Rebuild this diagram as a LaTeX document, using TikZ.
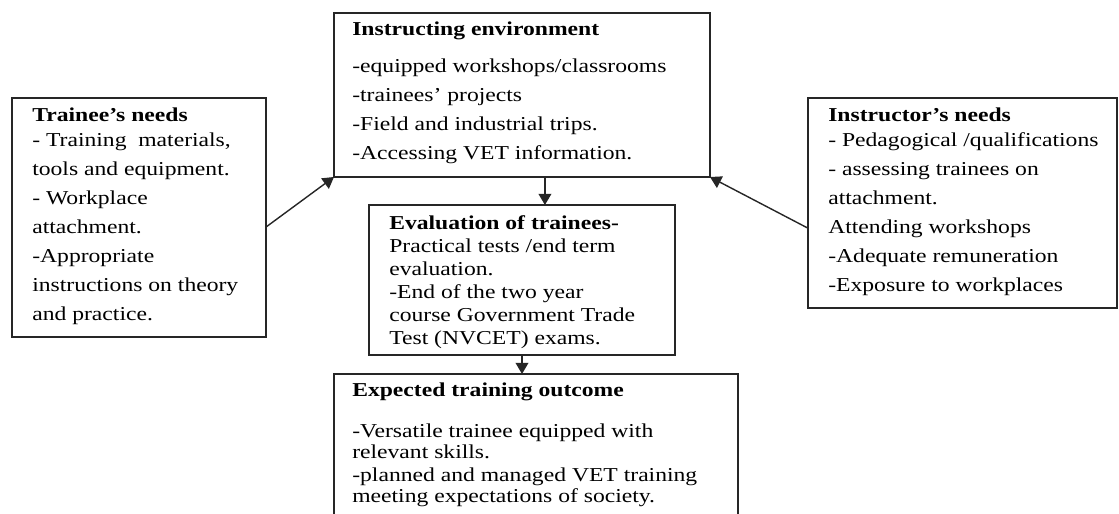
\documentclass[tikz,border=0pt]{standalone}
\usepackage{fontspec}
\setmainfont{Liberation Serif}[FakeStretch=1.2]
\usepackage{tikz}
\usetikzlibrary{arrows.meta,positioning,calc,fit}
\tikzset{
  >={Triangle[length=2.8mm,width=3.2mm]},
  box/.style={draw=black!85,line width=0.9pt,inner sep=0pt,outer sep=0pt},
  txt/.style={anchor=north west,inner sep=0pt,align=left,font=\fontsize{14}{20.6}\selectfont},
  stxt/.style={txt,font=\fontsize{14}{16.4}\selectfont},
  arr/.style={->,draw=black!85,line width=1pt},
}

\begin{document}
\begin{tikzpicture}[x=0.25mm,y=-0.25mm]
\useasboundingbox (0,0) rectangle (1119,514);
\clip (0,0) rectangle (1119,514);

% frames
\node[box,fit={(12,98) (266,337)}] (trn) {};
\node[box,fit={(334,13) (710,177)}] (env) {};
\node[box,fit={(808,98) (1117,308)}] (ins) {};
\node[box,fit={(369,205) (675,355)}] (eval) {};
\node[box,fit={(334,374) (738,540)}] (out) {};

% contents
\node[txt] (trntxt) at (32,108) {\textbf{Trainee’s needs}\\[-2.8pt]
- Training\ \ materials,\\
tools and equipment.\\
- Workplace\\
attachment.\\
-Appropriate\\
instructions on theory\\
and practice.};

\node[txt] (envtxt) at (352,22) {\textbf{Instructing environment}\\[5.7pt]
-equipped workshops/classrooms\\
-trainees’ projects\\
-Field and industrial trips.\\
-Accessing VET information.};

\node[txt] (instxt) at (828,108) {\textbf{Instructor’s needs}\\[-2.8pt]
- Pedagogical /qualifications\\
- assessing trainees on\\
attachment.\\
Attending workshops\\
-Adequate remuneration\\
-Exposure to workplaces};

\node[stxt] (evaltxt) at (389,215) {\textbf{Evaluation of trainees-}\\
Practical tests /end term\\
evaluation.\\
-End of the two year\\
course Government Trade\\
Test (NVCET) exams.};

\node[stxt,font=\fontsize{14}{15}\selectfont] (outtxt) at (352,383) {\textbf{Expected training outcome}\\[13.5pt]
-Versatile trainee equipped with\\
relevant skills.\\[1.4pt]
-planned and managed VET training\\
meeting expectations of society.};

% links
\coordinate (e1) at ($(env.south west)!0.561!(env.south east)$);
\draw[arr] ($(trn.north east)!0.54!(trn.south east)$) -- (env.south west);
\draw[arr] ($(ins.north west)!0.62!(ins.south west)$) -- (env.south east);
\draw[arr] (e1) -- (e1 |- eval.north);
\draw[arr] (eval.south) -- (eval.south |- out.north);
\end{tikzpicture}
\end{document}
